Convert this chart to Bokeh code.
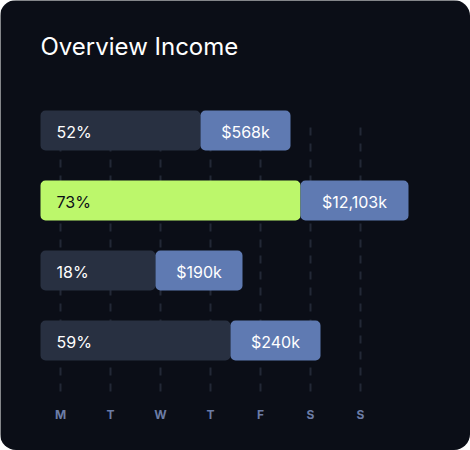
from bokeh.plotting import figure
from bokeh.models import Range1d, Label
from bokeh.core.properties import value
from bokeh.embed import file_html
from bokeh.resources import INLINE

# ---- data ----
days = ["M", "T", "W", "T", "F", "S", "S"]
pct_labels = ["52%", "73%", "18%", "59%"]
amount_labels = ["$568k", "$12,103k", "$190k", "$240k"]
pct_end = [2.8, 4.8, 1.9, 3.4]          # end of the percentage segment (day units)
total_end = [4.6, 6.96, 3.64, 5.2]      # end of the amount segment (day units)
highlight = [False, True, False, False]

# ---- style ----
BG = "#0b0e17"
DARK = "#283041"
BLUE = "#5f7ab2"
GREEN = "#bcf76b"
GRID = "#232836"
DAYC = "#6b7ca6"
FONT = "Inter"

W, H = 470, 450
X0, DX = 60, 50      # pixel of first day, pixels per day
Y0, DY = 130, 70     # pixel of first row, pixels per row

p = figure(width=W, height=H,
           x_range=Range1d(-X0 / DX, (W - X0) / DX),
           y_range=Range1d((H - Y0) / DY, -Y0 / DY),
           x_axis_type=None, y_axis_type=None,
           output_backend="svg", toolbar_location=None,
           min_border=0, background_fill_color=BG, border_fill_color=BG,
           outline_line_color=None)
p.styles = {"border-radius": "16px", "overflow": "hidden"}

rows = list(range(len(pct_labels)))
day_x = list(range(len(days)))
bar_left = -20 / DX
bar_h = 40 / DY

# dashed vertical guides
p.segment(x0=day_x, x1=day_x, y0=[(127 - Y0) / DY] * len(days), y1=[(392 - Y0) / DY] * len(days),
          line_color=GRID, line_width=2, line_dash="8 8")

# bars
seg_colors = [GREEN if h else DARK for h in highlight]
p.hbar(y=rows, left=bar_left, right=pct_end, height=bar_h, fill_color=seg_colors,
       line_color=None, border_radius=5)
p.hbar(y=rows, left=pct_end, right=total_end, height=bar_h, fill_color=BLUE,
       line_color=None, border_radius=5)

# labels
pct_colors = [BG if h else "#ffffff" for h in highlight]
p.text(x=[bar_left] * len(rows), y=rows, text=pct_labels, x_offset=16, y_offset=1,
       text_baseline="middle", text_align="left", text_color=pct_colors,
       text_font=value(FONT), text_font_size="16px")
mid = [(a + b) / 2 for a, b in zip(pct_end, total_end)]
p.text(x=mid, y=rows, text=amount_labels, y_offset=1,
       text_baseline="middle", text_align="center", text_color="#ffffff",
       text_font=value(FONT), text_font_size="16px")

# day labels
p.text(x=day_x, y=[(414 - Y0) / DY] * len(days), text=days, y_offset=0,
       text_baseline="middle", text_align="center", text_color=DAYC,
       text_font=value(FONT), text_font_size="12px", text_font_style="bold")

# title
p.add_layout(Label(x=40, y=H - 46, x_units="screen", y_units="screen",
                   text="Overview Income", text_color="#ffffff",
                   text_font=FONT, text_font_size="24px", text_baseline="middle"))

html = file_html(p, INLINE, title="Overview Income")
html = html.replace("<head>", "<head>\n<style>html,body{margin:0;padding:0;background:#ffffff;}</style>", 1)
open("out.html", "w").write(html)
